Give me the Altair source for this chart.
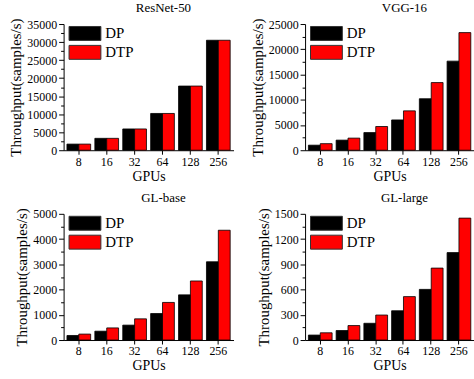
import altair as alt
import pandas as pd

FONT = "Liberation Serif"

gpus = ["8", "16", "32", "64", "128", "256"]
methods = ["DP", "DTP"]

resnet_dp = [1700, 3300, 5900, 10200, 17800, 30500]
resnet_dtp = [1700, 3300, 5900, 10200, 17800, 30500]
vgg_dp = [1000, 2000, 3500, 6000, 10200, 17650]
vgg_dtp = [1300, 2400, 4700, 7800, 13400, 23300]
glbase_dp = [180, 350, 590, 1050, 1790, 3100]
glbase_dtp = [235, 480, 840, 1490, 2340, 4350]
gllarge_dp = [59, 113, 199, 348, 602, 1039]
gllarge_dtp = [86, 172, 297, 516, 855, 1449]


def panel(title, dp, dtp, ymax, major, w, h):
    df = pd.DataFrame({
        "GPUs": gpus * 2,
        "Method": ["DP"] * len(gpus) + ["DTP"] * len(gpus),
        "Throughput": dp + dtp,
    })
    minor = major / 2
    n = int(round(ymax / minor))
    vals = [i * minor for i in range(n + 1)]
    return alt.Chart(
        df,
        title=alt.TitleParams(title, font=FONT, fontSize=13, fontWeight="normal",
                              color="black", dx=15, offset=3, frame="group"),
    ).mark_bar(stroke="black", strokeWidth=0.8).encode(
        x=alt.X("GPUs:N", sort=gpus, title="GPUs",
                scale=alt.Scale(paddingInner=0.15, paddingOuter=0.12),
                axis=alt.Axis(labelAngle=0, labelFont=FONT, labelFontSize=12,
                              labelColor="black", titleFont=FONT, titleFontSize=14,
                              titleFontWeight="normal", titleColor="black",
                              domainColor="black", tickColor="black", tickSize=4,
                              labelPadding=2, titlePadding=2)),
        xOffset=alt.XOffset("Method:N", sort=methods,
                            scale=alt.Scale(paddingInner=0, paddingOuter=0)),
        y=alt.Y("Throughput:Q", title="Throughput(samples/s)",
                scale=alt.Scale(domain=[0, ymax], nice=False),
                axis=alt.Axis(values=vals, format="d",
                              labelExpr=f"datum.value % {major} === 0 ? datum.label : ''",
                              tickSize={"condition": {"test": f"datum.value % {major} === 0", "value": 5}, "value": 3},
                              grid=False, labelFont=FONT, labelFontSize=12,
                              labelColor="black", titleFont=FONT, titleFontSize=15,
                              titleFontWeight="normal", titleColor="black",
                              domainColor="black", tickColor="black",
                              labelPadding=2, titlePadding=3)),
        color=alt.Color("Method:N",
                        scale=alt.Scale(domain=methods, range=["#000000", "#ff0000"]),
                        legend=alt.Legend(title=None, orient="none", legendX=12, legendY=0,
                                          symbolType="M-1.78,-0.78H1.78V0.78H-1.78Z",
                                          symbolSize=324, symbolStrokeColor="#333333",
                                          symbolStrokeWidth=1, labelFont=FONT,
                                          labelFontSize=15, labelColor="black",
                                          labelOffset=11, rowPadding=-3, padding=0)),
    ).properties(width=w, height=h)


p1 = panel("ResNet-50", resnet_dp, resnet_dtp, 35000, 5000, 171, 127)
p2 = panel("VGG-16", vgg_dp, vgg_dtp, 25000, 5000, 170, 127)
p3 = panel("GL-base", glbase_dp, glbase_dtp, 5000, 1000, 171, 127)
p4 = panel("GL-large", gllarge_dp, gllarge_dtp, 1500, 300, 170, 127)

row1 = alt.hconcat(p1, p2, spacing=72, bounds="flush").resolve_scale(
    x="independent", y="independent", color="independent")
row2 = alt.hconcat(p3, p4, spacing=72, bounds="flush").resolve_scale(
    x="independent", y="independent", color="independent")

chart = alt.vconcat(row1, row2, spacing=8).resolve_scale(
    x="independent", y="independent", color="independent"
).properties(
    padding={"left": 8, "top": 0, "right": 0, "bottom": 0},
    background="white",
).configure_view(stroke=None)

chart.save("out.html", embed_options={"renderer": "svg", "actions": False})
